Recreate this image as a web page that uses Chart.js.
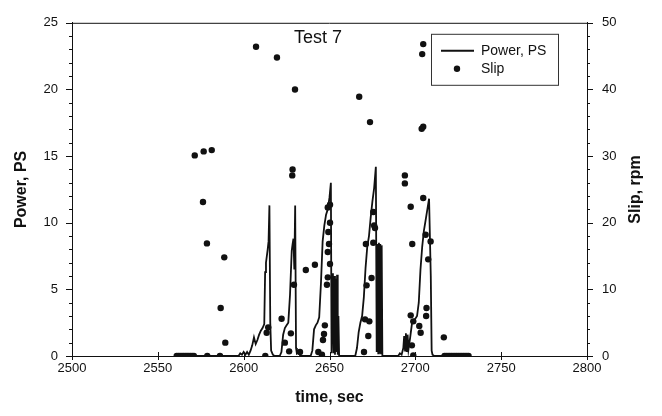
<!DOCTYPE html>
<html>
<head>
<meta charset="utf-8">
<script src="https://cdn.jsdelivr.net/npm/chart.js@4.4.0/dist/chart.umd.min.js"></script>
<style>
html, body { margin: 0; padding: 0; background: #fff; }
</style>
</head>
<body>
<canvas id="myChart" width="662" height="416"></canvas>
<script>

// power trace, PS vs time (s)
const powerTime = [
  2563, 2570, 2580, 2590, 2597, 2598, 2599, 2600, 2601, 2602, 2603, 2604, 2605, 2606, 2607, 2608, 2609, 2610, 2611, 2612,
  2612.5, 2613, 2614, 2614.5, 2615, 2615.5, 2616, 2617, 2618,
  2621, 2622, 2623, 2624, 2625, 2626, 2627, 2628, 2628.5, 2629, 2629.5, 2630, 2630.5, 2631, 2632, 2633,
  2639, 2640, 2641, 2642, 2643, 2644, 2645, 2646, 2647, 2648, 2649, 2650, 2650.8, 2651.2,
  2652, 2652.4, 2652.8, 2653.2, 2653.6, 2654, 2654.4, 2654.8, 2655.2, 2655.6,
  2665, 2666, 2667, 2668, 2669, 2670, 2671, 2672, 2673, 2674, 2675, 2676, 2677, 2677.5,
  2678, 2678.4, 2678.8, 2679.2, 2679.6, 2680, 2680.4, 2680.8,
  2690, 2691, 2692, 2693, 2693.5, 2694, 2694.5, 2695, 2695.5, 2696, 2697, 2698, 2699, 2700, 2701,
  2702, 2703, 2704, 2705, 2706, 2707, 2708, 2709, 2709.5, 2710, 2711, 2731
];
const powerPS = [
  0, 0, 0, 0, 0, 0.2, 0.1, 0.3, 0.1, 0.3, 0.1, 0.4, 0.8, 1.4, 0.9, 1.2, 1.6, 1.9, 2.1, 2.4,
  6.3, 7.0, 8.0, 8.6, 11.3, 2.5, 0.4, 0.1, 0,
  0, 0.3, 1.6, 2.1, 2.3, 2.5, 4.6, 7.9, 8.4, 8.8, 6.5, 11.3, 0.6, 0.2, 0.3, 0,
  0, 0.4, 2.0, 2.3, 2.5, 2.9, 5.4, 8.6, 9.8, 10.6, 11.0, 11.9, 13.0, 0.2,
  6.2, 0.2, 6.0, 0.1, 5.8, 0.3, 6.1, 0.1, 3.0, 0,
  0, 0.6, 1.8, 2.5, 3.0, 4.4, 6.6, 8.2, 9.0, 10.4, 11.6, 12.6, 14.2, 0.3,
  8.4, 0.2, 8.5, 0.2, 8.4, 0.2, 8.3, 0,
  0, 0.2, 0.1, 0.6, 1.5, 0.4, 1.7, 0.3, 1.6, 0.5, 1.4, 2.4, 2.7, 2.8, 3.0,
  4.0, 6.5, 8.2, 9.4, 10.2, 11.0, 11.8, 6.0, 0.4, 0.1, 0, 0
];

// slip, rpm vs time (s)
const slipTime = [
  2561, 2562, 2563, 2564, 2565, 2566, 2567, 2568, 2569, 2570, 2571,
  2571.5, 2576.7, 2581.4, 2576.3, 2578.6, 2588.7, 2586.6, 2589.3, 2578.8, 2586.2,
  2607.2, 2619.4, 2612.6, 2613.4, 2614.3, 2622.1,
  2628.5, 2628.3, 2629.9, 2629.3, 2627.5, 2624.0, 2626.5, 2632.8, 2636.2, 2641.5,
  2649.0, 2650.3, 2650.3, 2649.3, 2649.7, 2649.0, 2650.3, 2649.0, 2648.5, 2647.3, 2646.8, 2646.2, 2643.5, 2645.6,
  2667.3, 2673.6,
  2676.5, 2675.5, 2676.0, 2675.5, 2671.2, 2674.5, 2671.6, 2670.7, 2673.2, 2672.6, 2670.1,
  2704.6, 2704.0, 2704.6, 2703.7, 2693.9, 2693.9, 2697.3, 2704.6, 2698.2, 2706.0, 2708.9, 2707.5,
  2706.5, 2706.3, 2697.3, 2698.8, 2702.3, 2703.1, 2698.0, 2698.8, 2716.6,
  2717, 2718, 2719, 2720, 2721, 2722, 2723, 2724, 2725, 2726, 2727, 2728, 2729, 2730, 2731
];
const slipRpm = [
  0, 0, 0, 0, 0, 0, 0, 0, 0, 0, 0,
  30.1, 30.7, 30.9, 23.1, 16.9, 14.8, 7.2, 2.0, 0, 0,
  46.4, 44.8, 0, 3.5, 4.3, 5.6,
  28.0, 27.1, 40.0, 10.7, 3.4, 2.0, 0.7, 0.6, 12.9, 13.7,
  22.3, 22.7, 20.0, 18.6, 16.8, 15.6, 13.8, 11.8, 10.7, 4.6, 3.3, 2.4, 0.6, 0.2,
  38.9, 35.1,
  19.2, 21.6, 19.6, 17.0, 16.8, 11.7, 10.6, 5.5, 5.2, 3.0, 0.6,
  46.8, 45.3, 34.4, 34.1, 27.1, 25.9, 22.4, 23.7, 16.8, 18.2, 17.2, 14.5,
  7.2, 6.0, 6.1, 5.2, 4.5, 3.5, 1.6, 0.1, 2.8,
  0, 0, 0, 0, 0, 0, 0, 0, 0, 0, 0, 0, 0, 0, 0
];

const FONT = "'Liberation Sans', Arial, Helvetica, sans-serif";
const INK = '#111';

const decor = {
  id: 'decor',
  afterDraw(chart) {
    const c = chart.ctx;
    const a = chart.chartArea;
    const sx = chart.scales.x, sy = chart.scales.y, sy1 = chart.scales.y1;
    const seg = (x1, y1, x2, y2) => { c.beginPath(); c.moveTo(x1, y1); c.lineTo(x2, y2); c.stroke(); };
    c.save();
    c.strokeStyle = INK;
    c.lineWidth = 1;
    // top frame line
    seg(a.left, a.top + 0.5, a.right, a.top + 0.5);
    // left ticks (outward)
    for (let v = 0; v <= 25; v += 1) {
      const p = Math.round(sy.getPixelForValue(v)) + 0.5;
      seg(a.left - (v % 5 === 0 ? 6 : 3), p, a.left, p);
    }
    // right ticks (outward)
    for (let v = 0; v <= 50; v += 2) {
      const p = Math.round(sy1.getPixelForValue(v)) + 0.5;
      seg(a.right, p, a.right + (v % 10 === 0 ? 6 : 3), p);
    }
    // bottom ticks
    for (let v = 2500; v <= 2800; v += 50) {
      const p = Math.round(sx.getPixelForValue(v)) + 0.5;
      seg(p, a.bottom - 4, p, a.bottom + 4);
    }

    c.fillStyle = INK;
    // axis titles
    c.font = 'bold 16px ' + FONT;
    c.textAlign = 'center';
    c.textBaseline = 'middle';
    const midY = (a.top + a.bottom) / 2;
    c.save(); c.translate(22, midY); c.rotate(-Math.PI / 2); c.fillText('Power, PS', 0, 0); c.restore();
    c.save(); c.translate(636, midY); c.rotate(-Math.PI / 2); c.fillText('Slip, rpm', 0, 0); c.restore();
    c.fillText('time, sec', (a.left + a.right) / 2, 398);

    // in-plot label
    c.font = '18px ' + FONT;
    c.textAlign = 'left';
    c.fillText('Test 7', 294, 38);

    // legend
    const lx = a.right - 156, ly = a.top + 11;
    c.fillStyle = '#fff';
    c.fillRect(lx, ly, 127, 51);
    c.strokeStyle = '#333';
    c.strokeRect(lx + 0.5, ly + 0.5, 127, 51);
    c.strokeStyle = INK;
    c.lineWidth = 2;
    seg(lx + 10, ly + 17, lx + 43, ly + 17);
    c.fillStyle = INK;
    c.beginPath(); c.arc(lx + 26, ly + 35, 3.2, 0, Math.PI * 2); c.fill();
    c.font = '14px ' + FONT;
    c.textBaseline = 'middle';
    c.fillText('Power, PS', lx + 50, ly + 17);
    c.fillText('Slip', lx + 50, ly + 35);
    c.restore();
  }
};

const ctx = document.getElementById('myChart').getContext('2d');

const chart = new Chart(ctx, {
  type: 'scatter',
  data: {
    datasets: [
      {
        label: 'Slip',
        data: slipTime.map((t, i) => ({ x: t, y: slipRpm[i] })),
        yAxisID: 'y1',
        pointRadius: 3.2,
        pointBackgroundColor: INK,
        pointBorderWidth: 0,
        order: 0
      },
      {
        label: 'Power, PS',
        type: 'line',
        data: powerTime.map((t, i) => ({ x: t, y: powerPS[i] })),
        yAxisID: 'y',
        borderColor: INK,
        borderWidth: 1.8,
        pointRadius: 0,
        tension: 0,
        fill: false,
        order: 1
      }
    ]
  },
  options: {
    responsive: false,
    animation: false,
    layout: { padding: { top: 14 } },
    plugins: {
      legend: { display: false },
      tooltip: { enabled: false }
    },
    scales: {
      x: {
        type: 'linear',
        min: 2500,
        max: 2800,
        ticks: { stepSize: 50, padding: 5, maxRotation: 0, color: INK, font: { family: FONT, size: 13 }, callback: v => String(v) },
        grid: { display: false, drawTicks: false },
        border: { color: INK },
        afterFit: s => { s.height = 60; }
      },
      y: {
        position: 'left',
        min: 0,
        max: 25,
        ticks: { stepSize: 5, padding: 14, color: INK, font: { family: FONT, size: 13 } },
        grid: { display: false, drawTicks: false },
        border: { color: INK },
        afterFit: s => { s.width = 72; }
      },
      y1: {
        position: 'right',
        min: 0,
        max: 50,
        ticks: { stepSize: 10, padding: 15, color: INK, font: { family: FONT, size: 13 } },
        grid: { display: false, drawTicks: false },
        border: { color: INK },
        afterFit: s => { s.width = 75; }
      }
    }
  },
  plugins: [decor]
});
</script>
</body>
</html>
